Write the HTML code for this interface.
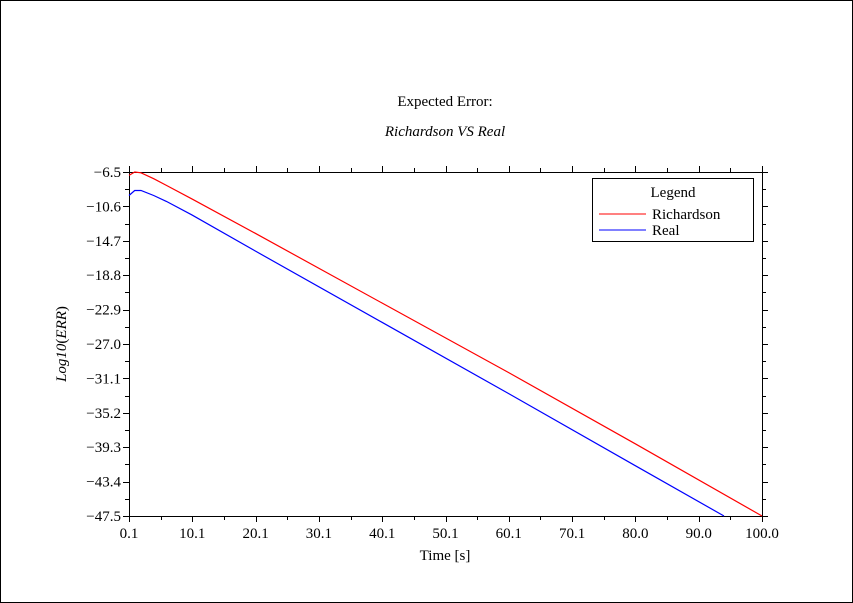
<!DOCTYPE html>
<html><head><meta charset="utf-8"><style>
body{margin:0;background:#fff}
svg{display:block;font-family:"Liberation Serif",serif}
</style></head><body>
<svg id="c" width="853" height="603">
<rect x="0.5" y="0.5" width="852" height="602" fill="#fff" stroke="#000"/>
<text x="445" y="106" font-size="15" text-anchor="middle">Expected Error:</text>
<text x="445" y="136" font-size="15" font-style="italic" text-anchor="middle">Richardson  VS  Real</text>
<text transform="translate(66,344) rotate(-90)" font-size="15" text-anchor="middle"><tspan font-style="italic">Log10</tspan>(<tspan font-style="italic">ERR</tspan>)</text>
<text x="445" y="560" font-size="15" text-anchor="middle">Time [s]</text>
<g id="axes"></g>
<g id="series"></g>
<g>
<rect x="592.5" y="178.5" width="161" height="63" fill="#fff" stroke="#000"/>
<text x="673" y="197" font-size="15" text-anchor="middle">Legend</text>
<line x1="599" y1="214" x2="646" y2="214" stroke="#f00"/>
<text x="652" y="219" font-size="15">Richardson</text>
<line x1="599" y1="230" x2="646" y2="230" stroke="#00f"/>
<text x="652" y="235" font-size="15">Real</text>
</g>
</svg>
<script>
const xTicks=["0.1","10.1","20.1","30.1","40.1","50.1","60.1","70.1","80.0","90.0","100.0"];
const yTicks=["-6.5","-10.6","-14.7","-18.8","-22.9","-27.0","-31.1","-35.2","-39.3","-43.4","-47.5"];
const richT=[0.1,1,2,4,6,10,20,40,60,80,100];
const richV=[-6.9,-6.5,-6.6,-7.3,-8.1,-9.7,-13.8,-22.1,-30.4,-38.9,-47.5];
const realT=[0.1,1,2,4,6,10,20,40,60,80,94];
const realV=[-9.3,-8.7,-8.7,-9.3,-10.0,-11.6,-15.9,-24.4,-32.9,-41.5,-47.5];
const L=129,R=762,T=172,B=516,x0=0.1,x1=100,y0=-47.5,y1=-6.5;
const X=v=>L+(v-x0)/(x1-x0)*(R-L), Y=v=>B-(v-y0)/(y1-y0)*(B-T);
const NS="http://www.w3.org/2000/svg";
const ax=document.getElementById('axes'), se=document.getElementById('series');
function mk(tag,at,p){const e=document.createElementNS(NS,tag);for(const k in at)e.setAttribute(k,at[k]);p.appendChild(e);return e;}
const box=mk('rect',{x:L+.5,y:T+.5,width:R-L,height:B-T,fill:'none',stroke:'#000'},ax);


for(let i=0;i<=20;i++){
  const px=Math.round(L+i*(R-L)/20)+.5, py=Math.round(T+i*(B-T)/20)+.5, len=i%2?4:6;
  mk('line',{x1:px,y1:B,x2:px,y2:B+len,stroke:'#000'},ax);
  mk('line',{x1:px,y1:T,x2:px,y2:T-len,stroke:'#000'},ax);
  mk('line',{x1:L,y1:py,x2:L-len,y2:py,stroke:'#000'},ax);
  mk('line',{x1:R,y1:py,x2:R+len,y2:py,stroke:'#000'},ax);
}
xTicks.forEach((t,i)=>{const e=mk('text',{x:L+i*(R-L)/10,y:B+22,'font-size':15,'text-anchor':'middle'},ax);e.textContent=t;

});
yTicks.forEach((t,i)=>{const e=mk('text',{x:L-8,y:T+i*(B-T)/10+5,'font-size':15,'text-anchor':'end'},ax);e.textContent=t.replace('-','\u2212');

});
function line(ts,vs,c,n){const d=ts.map((t,i)=>(i?'L':'M')+X(t).toFixed(1)+','+Y(vs[i]).toFixed(1)).join('');
const p=mk('path',{d:d,fill:'none',stroke:c,'stroke-width':1.2},se);

}
line(richT,richV,'#f00','richardson-line');
line(realT,realV,'#00f','real-line');
</script>
</body></html>
